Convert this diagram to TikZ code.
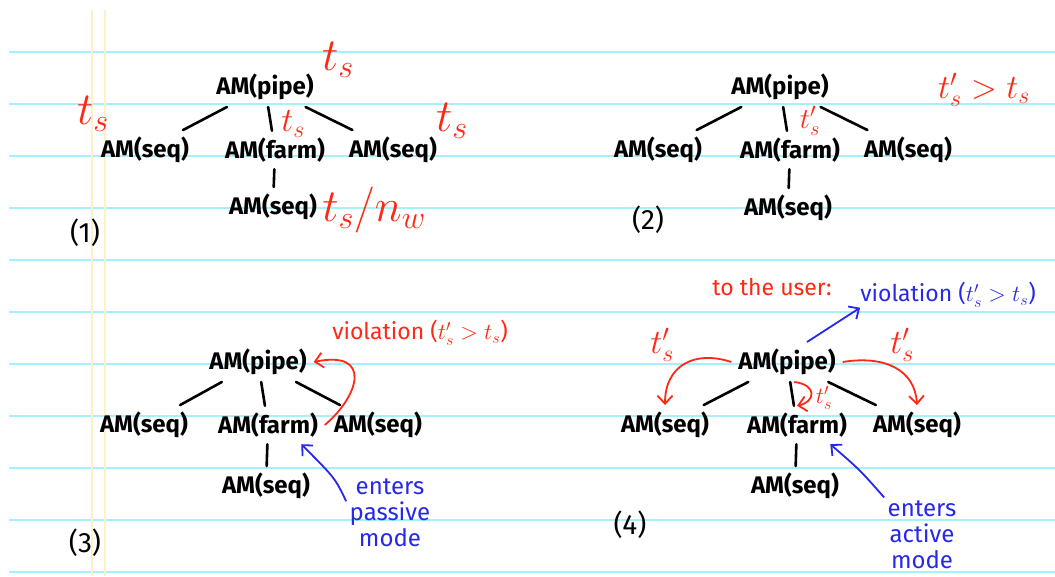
\RequirePackage{fix-cm}
\documentclass[tikz,border=0pt]{standalone}
\usepackage{fontspec}
\setmainfont{Fira Sans}
\usepackage{xcolor}
\usepackage{tikz}
\usetikzlibrary{positioning}
\usetikzlibrary{calc}
\usetikzlibrary{arrows.meta}
\definecolor{penred}{RGB}{255,40,20}
\definecolor{penblue}{RGB}{40,40,235}
\definecolor{rulecyan}{RGB}{165,240,250}
\definecolor{marginyellow}{RGB}{255,240,200}

\begin{document}
\begin{tikzpicture}[
                x=1pt, y=-1pt,
                every node/.style={font=\fontsize{28}{30}\selectfont},
                am/.style={inner sep=1pt, outer sep=6pt, font=\bfseries\fontsize{24}{26}\selectfont},
                treelink/.style={line width=2.6pt, line cap=round},
                lab/.style={text=penred, inner sep=0pt, font=\fontsize{23}{25}\selectfont},
                biglab/.style={lab, font=\fontsize{46}{48}\selectfont},
                midlab/.style={lab, font=\fontsize{34}{36}\selectfont},
                bluenote/.style={text=penblue, align=center, font=\fontsize{24}{26}\selectfont},
                redarr/.style={draw=penred, line width=1.8pt, -{Straight Barb[length=8pt,width=15pt]}},
                bluearr/.style={draw=penblue, line width=1.8pt, -{Straight Barb[length=8pt,width=15pt]}},
                rulings/.style={draw=rulecyan, line width=1.2pt},
                margins/.style={draw=marginyellow, line width=2pt}
            ]
            % Paper
            \fill[white] (0,0) rectangle (1055,576);
            \useasboundingbox (0,0) rectangle (1055,576);
            \foreach \k in {1,...,11}
                \draw[rulings] (9,52*\k) -- (1055,52*\k);
            \draw[margins] (92,10) -- (92,576);
            \draw[margins] (105,10) -- (105,576);
            % Trees
            \foreach \p/\x/\y/\l/\r/\d in {1/265/87/120/128/120, 2/780/87/122/128/121, 3/258/362/114/120/124, 4/787/362/122/130/124} {
                \node[am] (pipe\p) at (\x,\y) {AM(pipe)};
                \node[am] (seqL\p) at ($(pipe\p)+(-\l,63)$) {AM(seq)};
                \node[am] (farm\p) at ($(pipe\p)+(10,63)$) {AM(farm)};
                \node[am] (seqR\p) at ($(pipe\p)+(\r,63)$) {AM(seq)};
                \node[am] (bott\p) at ($(pipe\p)+(8,\d)$) {AM(seq)};
                \draw[treelink] (pipe\p) -- (seqL\p);
                \draw[treelink] (pipe\p) -- (farm\p);
                \draw[treelink] (pipe\p) -- (seqR\p);
                \draw[treelink] (farm\p) -- (bott\p);
            }
            % (1)
            \node[biglab] (ts1top) at (338,60) {$t_s$};
            \node[biglab] (ts1left) at (93,114) {$t_s$};
            \node[midlab] (ts1mid) at (293,124) {$t_s$};
            \node[biglab] (ts1right) at (452,121) {$t_s$};
            \node[biglab] (ts1bott) at (374,210) {$t_s/n_w$};
            \node (num1) at (85,233) {(1)};
            % (2)
            \node[lab, font=\fontsize{29}{31}\selectfont] (ts2mid) at (810,121) {$t'_s$};
            \node[midlab] (cond2) at (984,90) {$t'_s>t_s$};
            \node (num2) at (648,220) {(2)};
            % (3)
            \node[lab] (viol3) at (420,333) {violation ($t'_s>t_s$)};
            \node[bluenote] (passive) at (390,513) {enters\\passive\\mode};
            \node (num3) at (85,543) {(3)};
            \draw[redarr] (farm3.east) .. controls (360,395) and (372,350) .. (pipe3.east);
            \draw[bluearr] (passive.165) .. controls (335,478) .. (farm3.-30);
            % (4)
            \node[lab] (user4) at (772,287) {to the user:};
            \node[lab, text=penblue] (viol4) at (948,295) {violation ($t'_s>t_s$)};
            \node[midlab] (ts4left) at (662,345) {$t'_s$};
            \node[midlab] (ts4right) at (902,345) {$t'_s$};
            \node[lab] (ts4mid) at (824,398) {$t'_s$};
            \node[bluenote] (active) at (922,535) {enters\\active\\mode};
            \node (num4) at (630,525) {(4)};
            \draw[bluearr] (pipe4.45) -- (viol4.south west);
            \draw[redarr] (pipe4.west) .. controls (695,350) and (665,365) .. (seqL4.north);
            \draw[redarr] (pipe4.east) .. controls (885,355) and (915,370) .. (seqR4.north);
            \draw[redarr] (pipe4.-70) .. controls (818,385) and (815,402) .. (farm4.north);
            \draw[bluearr] (active.north west) .. controls (860,470) .. (farm4.-30);
            \end{tikzpicture}
\end{document}
